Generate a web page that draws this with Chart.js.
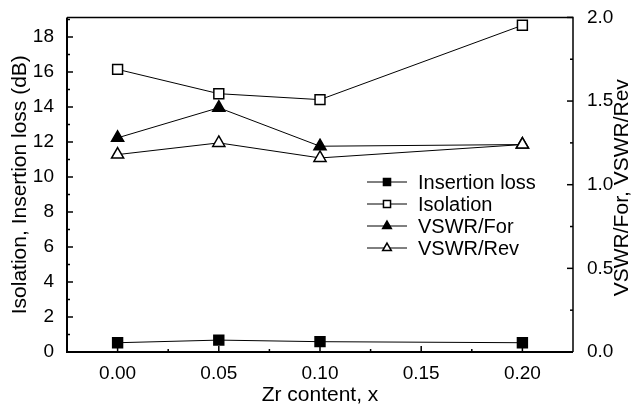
<!DOCTYPE html>
<html>
<head>
<meta charset="utf-8">
<title>Isolation and VSWR vs Zr content</title>
<script src="https://cdn.jsdelivr.net/npm/chart.js@4.4.1/dist/chart.umd.min.js"></script>
<style>
  body { margin: 0; background: #fff; }
  canvas { display: block; }
</style>
</head>
<body>
<canvas id="chart" width="634" height="407"></canvas>
<script>
// values
const zrContent = [0.00, 0.05, 0.10, 0.20];
const insertionLoss = [0.53, 0.68, 0.59, 0.53];
const isolation = [16.15, 14.76, 14.42, 18.67];
const vswrFor = [1.28, 1.46, 1.23, 1.24];
const vswrRev = [1.18, 1.25, 1.16, 1.24];

const xTicks = [0.00, 0.05, 0.10, 0.15, 0.20];
const dbTicks = [0, 2, 4, 6, 8, 10, 12, 14, 16, 18];
const vswrTicks = [0.0, 0.5, 1.0, 1.5, 2.0];

const FONT = '"Liberation Sans", Arial, sans-serif';

function pts(ys) {
    return zrContent.map((x, i) => ({ x: x, y: ys[i] }));
}

function series(label, ys, axis, style, filled, order) {
    return {
        label: label,
        data: pts(ys),
        yAxisID: axis,
        borderColor: '#000',
        borderWidth: 1,
        pointStyle: style,
        pointRadius: 7,
        pointBorderWidth: 1.5,
        pointBorderColor: '#000',
        pointBackgroundColor: filled ? '#000' : '#fff',
        order: order
    };
}

// inward tick marks on one side of the plot box
function marks(ctx, scale, area, values, len, side) {
    values.forEach(v => {
        const p = scale.getPixelForValue(v);
        ctx.beginPath();
        if (side == 'bottom') { ctx.moveTo(p, area.bottom); ctx.lineTo(p, area.bottom - len); }
        if (side == 'left') { ctx.moveTo(area.left, p); ctx.lineTo(area.left + len, p); }
        if (side == 'right') { ctx.moveTo(area.right, p); ctx.lineTo(area.right - len, p); }
        ctx.stroke();
    });
}

const framePlugin = {
    id: 'frame',
    afterDatasetsDraw(chart) {
        const ctx = chart.ctx;
        const a = chart.chartArea;
        const s = chart.scales;
        ctx.save();
        ctx.strokeStyle = '#000';

        // box
        ctx.lineWidth = 1.5;
        ctx.beginPath();
        ctx.moveTo(a.left, a.top); ctx.lineTo(a.right, a.top); ctx.lineTo(a.right, a.bottom);
        ctx.stroke();
        ctx.lineWidth = 2;
        ctx.beginPath();
        ctx.moveTo(a.left, a.top); ctx.lineTo(a.left, a.bottom); ctx.lineTo(a.right, a.bottom);
        ctx.stroke();

        ctx.lineWidth = 1.5;
        marks(ctx, s.x, a, xTicks, 6, 'bottom');
        marks(ctx, s.x, a, [0.025, 0.075, 0.125, 0.175], 3, 'bottom');
        marks(ctx, s.yDb, a, dbTicks, 6, 'left');
        marks(ctx, s.yDb, a, [1, 3, 5, 7, 9, 11, 13, 15, 17, 19], 3, 'left');
        marks(ctx, s.yVswr, a, vswrTicks, 6, 'right');
        marks(ctx, s.yVswr, a, [0.25, 0.75, 1.25, 1.75], 3, 'right');

        // right axis title, reading bottom to top
        ctx.fillStyle = '#000';
        ctx.font = '21px ' + FONT;
        ctx.textAlign = 'center';
        ctx.textBaseline = 'middle';
        ctx.translate(622, (a.top + a.bottom) / 2 + 3);
        ctx.rotate(-Math.PI / 2);
        ctx.fillText('VSWR/For, VSWR/Rev', 0, 0);
        ctx.restore();

        // legend inside the plot
        ctx.save();
        ctx.font = '20px ' + FONT;
        ctx.textAlign = 'left';
        ctx.textBaseline = 'middle';
        chart.data.datasets.forEach((ds, i) => {
            const y = 182 + i * 22;
            ctx.strokeStyle = '#000';
            ctx.lineWidth = 1;
            ctx.beginPath();
            ctx.moveTo(367, y); ctx.lineTo(407, y);
            ctx.stroke();
            ctx.fillStyle = ds.pointBackgroundColor;
            ctx.lineWidth = 1.5;
            Chart.helpers.drawPoint(ctx, { pointStyle: ds.pointStyle, radius: 5, rotation: 0, borderWidth: 1.5 }, 387, y);
            ctx.fillStyle = '#000';
            ctx.fillText(ds.label, 418, y + 1);
        });
        ctx.restore();
    }
};

const config = {
    type: 'line',
    data: {
        datasets: [
            series('Insertion loss', insertionLoss, 'yDb', 'rect', true, 3),
            series('Isolation', isolation, 'yDb', 'rect', false, 2),
            series('VSWR/For', vswrFor, 'yVswr', 'triangle', true, 1),
            series('VSWR/Rev', vswrRev, 'yVswr', 'triangle', false, 0)
        ]
    },
    options: {
        responsive: false,
        animation: false,
        layout: { padding: { top: 16, left: 0, right: 0, bottom: 0 } },
        plugins: {
            legend: { display: false },
            tooltip: { enabled: false }
        },
        scales: {
            x: {
                type: 'linear',
                min: -0.025,
                max: 0.225,
                grid: { display: false },
                border: { display: false },
                afterBuildTicks: s => { s.ticks = xTicks.map(v => ({ value: v })); },
                afterFit: s => { s.height = 55; },
                ticks: {
                    color: '#000',
                    padding: 2,
                    maxRotation: 0,
                    font: { family: FONT, size: 19 },
                    callback: v => v.toFixed(2)
                },
                title: {
                    display: true,
                    text: 'Zr content, x',
                    color: '#000',
                    padding: { top: 0, bottom: -1 },
                    font: { family: FONT, size: 21 }
                }
            },
            yDb: {
                type: 'linear',
                position: 'left',
                min: 0,
                max: 19.12,
                grid: { display: false },
                border: { display: false },
                afterBuildTicks: s => { s.ticks = dbTicks.map(v => ({ value: v })); },
                afterFit: s => { s.width = 67; },
                ticks: {
                    color: '#000',
                    padding: 5,
                    font: { family: FONT, size: 19 },
                    callback: v => String(v)
                },
                title: {
                    display: true,
                    text: 'Isolation, Insertion loss (dB)',
                    color: '#000',
                    padding: { top: 8, bottom: 0 },
                    font: { family: FONT, size: 21 }
                }
            },
            yVswr: {
                type: 'linear',
                position: 'right',
                min: 0,
                max: 2.0,
                grid: { display: false },
                border: { display: false },
                afterBuildTicks: s => { s.ticks = vswrTicks.map(v => ({ value: v })); },
                afterFit: s => { s.width = 61; },
                ticks: {
                    color: '#000',
                    padding: 6,
                    font: { family: FONT, size: 19 },
                    callback: v => v.toFixed(1)
                }
            }
        }
    },
    plugins: [framePlugin]
};

const chart = new Chart(document.getElementById('chart'), config);
</script>
</body>
</html>
